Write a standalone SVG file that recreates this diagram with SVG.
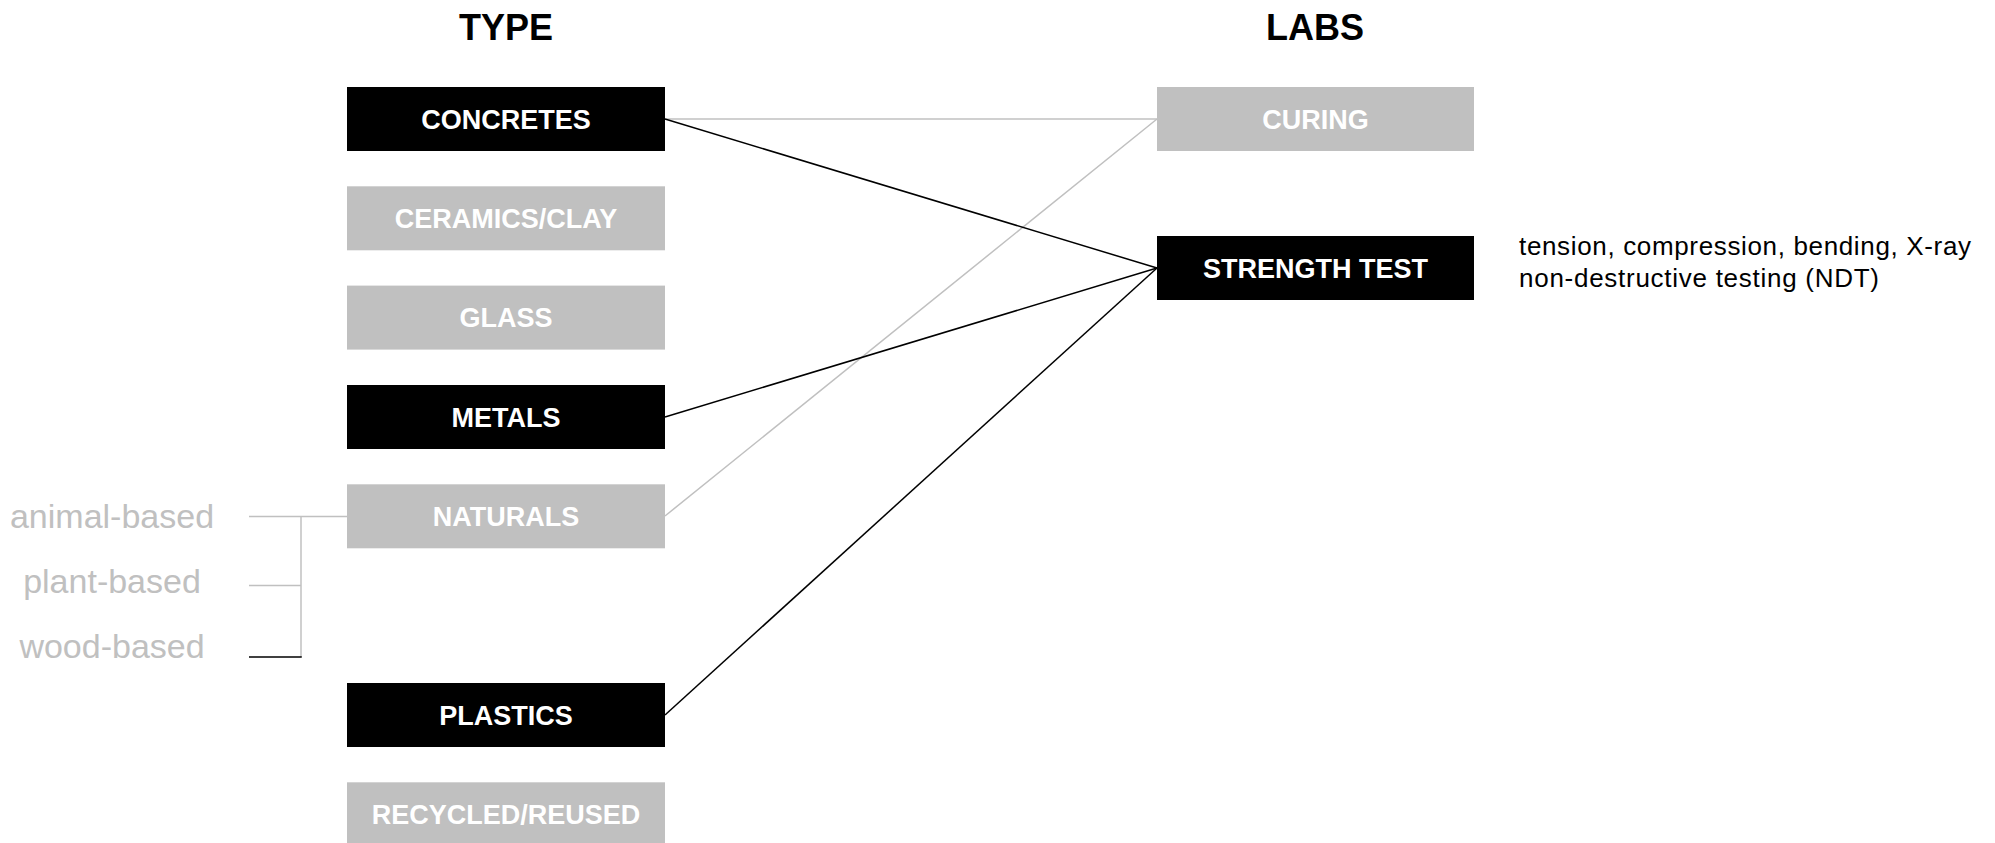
<svg xmlns="http://www.w3.org/2000/svg" width="1995" height="843" viewBox="0 0 1995 843">
<style>
.bk{fill:#000}
.gr{fill:#c0c0c0}
.lbl{font-family:"Liberation Sans",Arial,sans-serif;font-weight:bold;font-size:27px;fill:#fff;text-anchor:middle}
.title{font-family:"Liberation Sans",Arial,sans-serif;font-weight:bold;font-size:36px;fill:#000;text-anchor:middle}
.sub{font-family:"Liberation Sans",Arial,sans-serif;font-size:34px;fill:#c0c0c0;text-anchor:middle}
.desc{font-family:"Liberation Sans",Arial,sans-serif;font-size:26px;fill:#000}
.cg{stroke:#c0c0c0;stroke-width:1.5;fill:none}
.cb{stroke:#000;stroke-width:1.5;fill:none}
</style>
<rect width="1995" height="843" fill="#fff"/>
<text class="title" x="506" y="40">TYPE</text>
<text class="title" x="1315" y="40">LABS</text>
<g id="connectors">
<line class="cg" x1="665" y1="119" x2="1157" y2="119"/>
<line class="cg" x1="665" y1="516" x2="1157" y2="119"/>
<line class="cb" x1="665" y1="119" x2="1157" y2="268"/>
<line class="cb" x1="665" y1="417" x2="1157" y2="268"/>
<line class="cb" x1="665" y1="715" x2="1157" y2="268"/>
<line class="cg" x1="249" y1="516.5" x2="347" y2="516.5"/>
<line class="cg" x1="249" y1="585.5" x2="301" y2="585.5"/>
<line class="cg" x1="301" y1="516.5" x2="301" y2="657"/>
<line class="cb" x1="249" y1="657" x2="301.75" y2="657"/>
</g>
<g id="concretes"><rect class="bk" x="347" y="87" width="318" height="64"/><text class="lbl" x="506" y="128.5">CONCRETES</text></g>
<g id="ceramics"><rect class="gr" x="347" y="186.3" width="318" height="64"/><text class="lbl" x="506" y="227.8">CERAMICS/CLAY</text></g>
<g id="glass"><rect class="gr" x="347" y="285.6" width="318" height="64"/><text class="lbl" x="506" y="327.1">GLASS</text></g>
<g id="metals"><rect class="bk" x="347" y="385" width="318" height="64"/><text class="lbl" x="506" y="426.5">METALS</text></g>
<g id="naturals"><rect class="gr" x="347" y="484.3" width="318" height="64"/><text class="lbl" x="506" y="525.8">NATURALS</text></g>
<g id="plastics"><rect class="bk" x="347" y="683" width="318" height="64"/><text class="lbl" x="506" y="724.5">PLASTICS</text></g>
<g id="recycled"><rect class="gr" x="347" y="782.3" width="318" height="64"/><text class="lbl" x="506" y="823.8">RECYCLED/REUSED</text></g>
<g id="curing"><rect class="gr" x="1157" y="87" width="317" height="64"/><text class="lbl" x="1315.5" y="128.5">CURING</text></g>
<g id="strength"><rect class="bk" x="1157" y="236" width="317" height="64"/><text class="lbl" x="1315.5" y="277.5">STRENGTH TEST</text></g>
<g id="strength-notes">
<text class="desc" x="1519" y="255" textLength="452" lengthAdjust="spacing">tension, compression, bending, X-ray</text>
<text class="desc" x="1519" y="287" textLength="360" lengthAdjust="spacing">non-destructive testing (NDT)</text>
</g>
<g id="natural-kinds">
<text class="sub" x="112" y="528">animal-based</text>
<text class="sub" x="112" y="593">plant-based</text>
<text class="sub" x="112" y="658">wood-based</text>
</g>
</svg>
